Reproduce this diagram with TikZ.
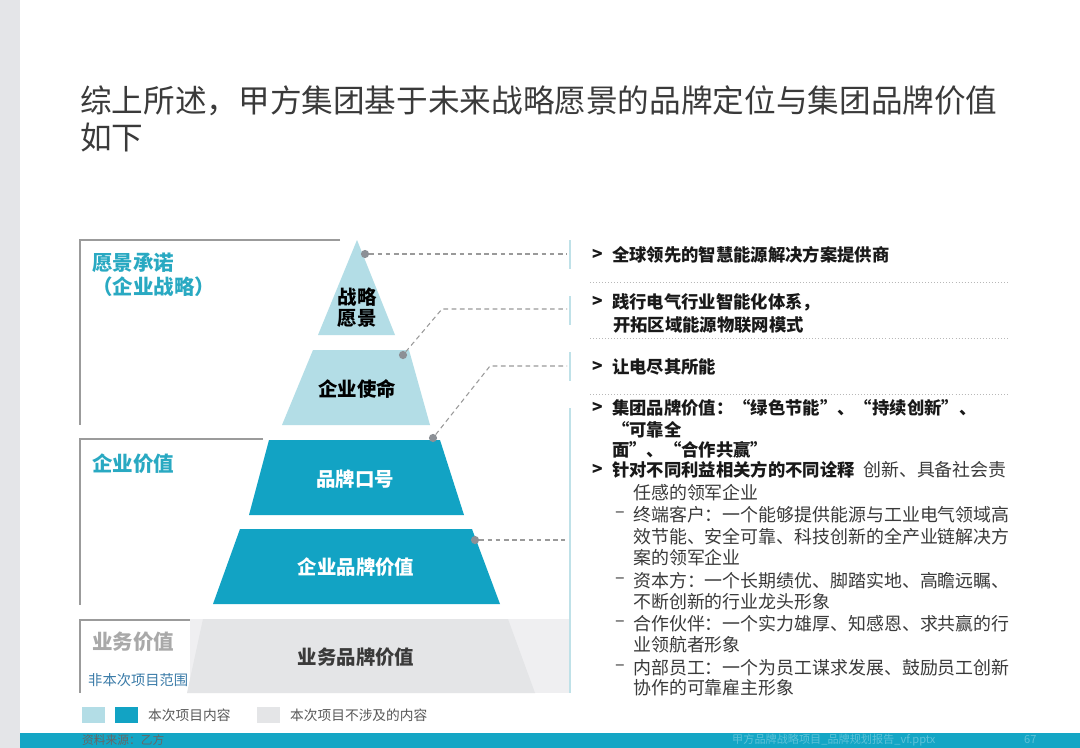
\documentclass[tikz,border=0pt]{standalone}
\usepackage{fontspec}
\setmainfont{Noto Sans CJK SC}
\newfontfamily\fwfont{Noto Sans CJK SC}[RawFeature=+fwid]
\newcommand{\fwl}{{\fwfont “}}
\newcommand{\fwr}{{\fwfont ”}}
\usetikzlibrary{positioning}

\definecolor{darkteal}{HTML}{12A3C4}
\definecolor{lightteal}{HTML}{B3DDE6}
\definecolor{layergray}{HTML}{E4E5E7}
\definecolor{bggray}{HTML}{EFEFF1}
\definecolor{stripgray}{HTML}{E4E5E8}
\definecolor{barteal}{HTML}{14A6C5}
\definecolor{labelteal}{HTML}{29A9C2}
\definecolor{labelgray}{HTML}{A9A9A9}
\definecolor{scopeblue}{HTML}{3A7BA8}
\definecolor{dotgray}{HTML}{8C9096}
\definecolor{dashgray}{HTML}{9A9A9A}
\definecolor{vbargray}{HTML}{BFE1E8}
\definecolor{framegray}{HTML}{9B9B9B}
\definecolor{textdark}{HTML}{3A3A3A}
\definecolor{footteal}{HTML}{5EC2D8}

\begin{document}
\begin{tikzpicture}[x=0.03cm, y=-0.03cm,
    head/.style={inner sep=0pt, anchor=west, font=\fontsize{27}{32}\selectfont, text=textdark},
    lvl/.style={inner sep=0pt, align=center, font=\fontsize{16.6}{18}\selectfont\bfseries},
    grp/.style={inner sep=0pt, anchor=west, font=\fontsize{17.5}{21}\selectfont\bfseries, text=labelteal},
    bul/.style={inner sep=0pt, anchor=west, font=\fontsize{14.8}{18}\selectfont\bfseries, text=black!90},
    txt/.style={inner sep=0pt, anchor=west, font=\fontsize{15.3}{18}\selectfont, text=textdark},
    legend/.style={inner sep=0pt, anchor=west, font=\fontsize{11.7}{14}\selectfont, text=black!65},
    pin/.style={circle, fill=dotgray, inner sep=0pt, minimum size=7pt},
    lead/.style={draw=dashgray, line width=0.9pt, dash pattern=on 4pt off 3pt},
    frame/.style={draw=framegray, line width=1.4pt},
    vbar/.style={draw=vbargray, line width=2.2pt},
    sep/.style={draw=dashgray!70, dotted, line width=0.6pt}
]
\useasboundingbox (0,0) rectangle (1080,748);
\fill[white] (0,0) rectangle (1080,748);

% page frame
\fill[stripgray] (0,0) rectangle (20,748);
\fill[barteal] (20,733) rectangle (1080,748);

% title
\node[head] (title1) at (80,101) {综上所述，甲方集团基于未来战略愿景的品牌定位与集团品牌价值};
\node[head] (title2) at (80,138) {如下};

% left brackets
\draw[frame] (340,240) -- (80,240) -- (80,425);
\draw[frame] (263,439) -- (80,439) -- (80,605);
\draw[frame] (190,620) -- (80,620) -- (80,693);
\node[grp] (promise)  at (92,263) {愿景承诺};
\node[grp] (strategy) at (92,287) {（企业战略）};
\node[grp] (corpval)  at (92,464) {企业价值};
\node[grp, text=labelgray] (bizval) at (92,642) {业务价值};

% pyramid
\fill[bggray] (190,619) rectangle (570,693);
\fill[lightteal] (357,240) -- (395,335) -- (318,335) -- cycle;
\fill[lightteal] (313,350) -- (409,350) -- (430,425) -- (282,425) -- cycle;
\fill[darkteal] (269,440) -- (440,440) -- (464,515) -- (249,515) -- cycle;
\fill[darkteal] (240,529) -- (472,529) -- (500,604) -- (213,604) -- cycle;
\fill[layergray] (203,619) -- (508,619) -- (535,693) -- (187,693) -- cycle;
\node[inner sep=0pt, anchor=west, font=\fontsize{12.2}{14}\selectfont, text=scopeblue] (scope) at (88,680) {非本次项目范围};

\node[lvl] (vision)  at (357,308) {战略\\愿景};
\node[lvl] (mission) at (357,389) {企业使命};
\node[lvl, text=white] (slogan) at (355,479) {品牌口号};
\node[lvl, text=white] (corp)   at (356,567) {企业品牌价值};
\node[lvl, text=textdark] (biz) at (356,657) {业务品牌价值};

% leaders
\node[pin] (p1) at (365,254) {};
\node[pin] (p2) at (403,355) {};
\node[pin] (p3) at (433,438) {};
\node[pin] (p4) at (475,540) {};
\coordinate (k2) at (442,309);
\coordinate (k3) at (490,366);
\coordinate (e1) at (567,254);
\coordinate (e2) at (567,309);
\coordinate (e3) at (567,366);
\coordinate (e4) at (565,540);
\draw[lead] (p1) -- (e1);
\draw[lead] (p2) -- (k2) -- (e2);
\draw[lead] (p3) -- (k3) -- (e3);
\draw[lead] (p4) -- (e4);

\draw[vbar] (570,240) -- (570,269);
\draw[vbar] (570,296) -- (570,325);
\draw[vbar] (570,352) -- (570,381);
\draw[vbar] (570,408) -- (570,693);

% separators
\draw[sep] (590,282) -- (1010,282);
\draw[sep] (590,338) -- (1010,338);
\draw[sep] (590,394) -- (1010,394);

% right column
\node[bul] at (592,255) {>};
\node[bul] (vis)  at (612,255) {全球领先的智慧能源解决方案提供商};
\node[bul] at (592,302) {>};
\node[bul] (mis1) at (612,302) {践行电气行业智能化体系，};
\node[bul] (mis2) at (613,325) {开拓区域能源物联网模式};
\node[bul] at (592,367) {>};
\node[bul] (slo)  at (612,367) {让电尽其所能};
\node[bul] at (592,408) {>};
\node[bul] (val1) at (612,408) {集团品牌价值：\fwl 绿色节能\fwr 、\fwl 持续创新\fwr 、};
\node[bul] (val2) at (612,430) {\fwl 可靠全};
\node[bul] (val3) at (612,450) {面\fwr 、\fwl 合作共赢\fwr};
\node[bul] at (592,470) {>};
\node[bul] (stk)  at (612,470) {针对不同利益相关方的不同诠释};
\node[txt] (gov1) at (863,470) {创新、具备社会责};
\node[txt] (gov2) at (633,493) {任感的领军企业};
\node[txt] at (615,515) {–};
\node[txt] (cus1) at (633,515) {终端客户：一个能够提供能源与工业电气领域高};
\node[txt] (cus2) at (633,537) {效节能、安全可靠、科技创新的全产业链解决方};
\node[txt] (cus3) at (633,558) {案的领军企业};
\node[txt] at (615,581) {–};
\node[txt] (cap1) at (633,581) {资本方：一个长期绩优、脚踏实地、高瞻远瞩、};
\node[txt] (cap2) at (633,602) {不断创新的行业龙头形象};
\node[txt] at (615,624) {–};
\node[txt] (par1) at (633,624) {合作伙伴：一个实力雄厚、知感恩、求共赢的行};
\node[txt] (par2) at (633,645) {业领航者形象};
\node[txt] at (615,668) {–};
\node[txt] (emp1) at (633,668) {内部员工：一个为员工谋求发展、鼓励员工创新};
\node[txt] (emp2) at (633,688) {协作的可靠雇主形象};

% legend
\fill[lightteal] (82,707) rectangle (105,723);
\fill[darkteal] (115,707) rectangle (138,723);
\node[legend] (inscope) at (148,715) {本次项目内容};
\fill[layergray] (257,707) rectangle (280,723);
\node[legend] (outscope) at (290,715) {本次项目不涉及的内容};

% footer
\node[inner sep=0pt, anchor=west, font=\fontsize{10}{12}\selectfont, text=black!60] (src) at (82,740) {资料来源：乙方};
\node[inner sep=0pt, anchor=west, font=\fontsize{9.5}{11}\selectfont, text=footteal] (file) at (732,740) {甲方品牌战略项目\_品牌规划报告\_vf.pptx};
\node[inner sep=0pt, anchor=west, font=\fontsize{9.5}{11}\selectfont, text=footteal] (page) at (1024,740) {67};
\end{tikzpicture}
\end{document}
